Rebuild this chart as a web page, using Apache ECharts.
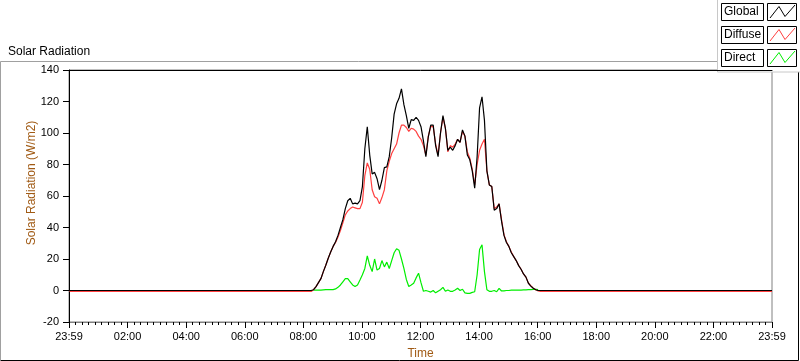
<!DOCTYPE html>
<html>
<head>
<meta charset="utf-8">
<script src="https://cdn.jsdelivr.net/npm/echarts@6/dist/echarts.min.js"></script>
<style>
  html, body { margin: 0; padding: 0; background: #fff; }
  #main { width: 800px; height: 361px; }
</style>
</head>
<body>
<div id="main"></div>
<script>
// sample times (5 min steps during the day)
const times = ['00:00',
  '08:00','08:05','08:10','08:15','08:20','08:25','08:30','08:35','08:40','08:45','08:50','08:55',
  '09:00','09:05','09:10','09:15','09:20','09:25','09:30','09:35','09:40','09:45','09:50','09:55',
  '10:00','10:05','10:10','10:15','10:20','10:25','10:30','10:35','10:40','10:45','10:50','10:55',
  '11:00','11:05','11:10','11:15','11:20','11:25','11:30','11:35','11:40','11:45','11:50','11:55',
  '12:00','12:05','12:10','12:15','12:20','12:25','12:30','12:35','12:40','12:45','12:50','12:55',
  '13:00','13:05','13:10','13:15','13:20','13:25','13:30','13:35','13:40','13:45','13:50','13:55',
  '14:00','14:05','14:10','14:15','14:20','14:25','14:30','14:35','14:40','14:45','14:50','14:55',
  '15:00','15:05','15:10','15:15','15:20','15:25','15:30','15:35','15:40','15:45','15:50','15:55',
  '16:00','16:05',
  '23:59'];

const globalRad = [0,
  0,0,0,0,0.5,2.5,5,7.5,12,16,20.5,24.5,
  28,31,35,40,45,52,57,58.5,55,55.5,55,57,
  66,90,104,86,74,75,71,64,70,78,78.5,85,
  97,112,118.5,122,128,118,111,103,108.5,108,110,108,
  104,95,85,97.6,105,105,92,85,100,111,103,89,
  91,89,92,96,94,102,98,86,83,76,65,85,
  116,123,108,76,67,66,51,52,55,44,35,30.5,
  28,24,21.5,19,15.8,13.5,10.5,8.5,4.6,2.8,1.4,0.5,
  0,0,
  0];

const diffuseRad = [-0.6,
  -0.6,-0.6,-0.6,-0.6,0.5,2.5,5,7.5,12,16,20.5,24.5,
  28,30.5,34,38,43,48,50.5,52,53,52.5,52,52,
  56,73,81,77,64,59.5,58.5,55,59,64,76,82,
  87,90,93,100,105,105,103.5,101,103,102.5,101,98,
  96,92,86,98,104,104,93,86,100,110,103,88,
  92,91,93,96,94,101,98,88,84,77,67,80,
  89,93,96,76,67,66,52,53,55,45,35.5,31,
  28,24.5,21.5,19,16,13.5,10.5,8.5,4.8,3,1.5,0.5,
  -0.3,-0.6,
  -0.6];

const directRad = [null,
  null,null,null,null,0.3,0.3,0.3,0.3,0.4,0.5,0.5,0.5,
  0.6,1,2,3.5,5.5,7.5,7.5,5.5,3.5,2.5,3.5,6.7,
  10,14,22,16,12,20,13,14,19,15,18,14,
  19,24,26.5,25.5,20,14,7,2.5,3.5,4.6,8,11,
  5,-0.5,0,-0.5,-1,0,-1.5,-0.5,0.5,2,-0.5,0.3,
  -0.5,-0.5,0.3,1.4,0,0.8,-1.5,-1.8,-1.8,-1.2,-0.8,10,
  26,29,12,0.5,-0.5,-0.5,0,-0.8,1.4,-0.3,-0.2,0,
  0,0.2,0.2,0.3,0.3,0.3,0.4,0.4,0.5,0.6,0.7,0.8,
  0.5,null,
  null];

const seriesNames = ['Global', 'Diffuse', 'Direct'];
const seriesColors = ['#000000', '#ff4040', '#00ee00'];

const FONT = 'Liberation Sans';
const nameColor = '#a05a14';

function toMin(t) {
  const p = t.split(':');
  return +p[0] * 60 + +p[1];
}
function pairs(vals) {
  return times.map((t, i) => [toMin(t), vals[i]]);
}
function pad(n) { return (n < 10 ? '0' : '') + n; }

const chart = echarts.init(document.getElementById('main'));

// legend boxes (text box + line sample box) drawn as graphics
const legendItems = [];
seriesNames.forEach((name, i) => {
  const top = 3.5 + i * 23;
  legendItems.push({
    type: 'rect', shape: { x: 721.5, y: top, width: 42, height: 17 },
    style: { fill: '#fff', stroke: '#000', lineWidth: 1 }
  });
  legendItems.push({
    type: 'text', x: 724, y: top + 8.5,
    style: { text: name, font: '12px "' + FONT + '"', fill: '#000', verticalAlign: 'middle' }
  });
  legendItems.push({
    type: 'rect', shape: { x: 767.5, y: top, width: 29, height: 17 },
    style: { fill: '#fff', stroke: '#000', lineWidth: 1 }
  });
  legendItems.push({
    type: 'polyline',
    shape: { points: [[770, top + 14.5], [779, top + 3], [785, top + 13], [795, top + 1.5]] },
    style: { stroke: seriesColors[i], lineWidth: 1, fill: null }
  });
});

const option = {
  animation: false,
  backgroundColor: '#fff',
  title: {
    text: 'Solar Radiation',
    left: 3, top: 41,
    textStyle: { fontFamily: FONT, fontSize: 12, fontWeight: 'normal', color: '#000' }
  },
  grid: {
    left: 69, right: 28, top: 70, bottom: 39,
    outerBoundsMode: 'none',
    show: true, borderColor: '#808080', borderWidth: 1, backgroundColor: '#fff'
  },
  xAxis: [{
    type: 'value',
    min: -1, max: 1439, interval: 120,
    name: 'Time', nameLocation: 'middle', nameGap: 26,
    nameTextStyle: { fontFamily: FONT, fontSize: 12, color: nameColor },
    axisLine: { onZero: false, lineStyle: { color: '#808080' } },
    axisTick: { length: 6, lineStyle: { color: '#000' } },
    minorTick: { show: true, splitNumber: 9, length: 3, lineStyle: { color: '#000' } },
    axisLabel: {
      margin: 9, fontFamily: FONT, fontSize: 11, color: '#000',
      formatter: v => (v < 0 || v >= 1439) ? '23:59' : pad(Math.round((v + 1) / 60)) + ':00'
    },
    splitLine: { show: false }
  }, {
    type: 'value', position: 'top',
    min: -1, max: 1439,
    axisLine: { show: true, onZero: false, lineStyle: { color: '#000' } },
    axisTick: { show: false }, axisLabel: { show: false }, splitLine: { show: false }
  }],
  yAxis: {
    type: 'value',
    min: -20, max: 140, interval: 20,
    name: 'Solar Radiation (W/m2)', nameLocation: 'middle', nameGap: 31,
    nameMoveOverlap: false,
    nameTextStyle: { fontFamily: FONT, fontSize: 12, color: nameColor, padding: [0, 0, 0, 26] },
    axisLine: { show: true, onZero: false, lineStyle: { color: '#000' } },
    axisTick: { show: true, length: 6, lineStyle: { color: '#000' } },
    axisLabel: { margin: 10, fontFamily: FONT, fontSize: 11, color: '#000' },
    splitLine: { show: false }
  },
  graphic: [
    { type: 'polyline', shape: { points: [[0.5, 360], [0.5, 61.5], [717, 61.5]] },
      style: { stroke: '#a0a0a0', lineWidth: 1, fill: null } },
    { type: 'polyline', shape: { points: [[0.5, 360.5], [798.5, 360.5], [798.5, 72]] },
      style: { stroke: '#000', lineWidth: 1, fill: null } },
    { type: 'rect', shape: { x: 717.5, y: -1, width: 90, height: 73 },
      style: { fill: '#fff', stroke: '#c8c8c8', lineWidth: 1 } },
    ...legendItems
  ],
  series: [
    { name: 'Direct', type: 'line', data: pairs(directRad), showSymbol: false,
      lineStyle: { width: 1.2, color: seriesColors[2] }, itemStyle: { color: seriesColors[2] }, z: 2 },
    { name: 'Diffuse', type: 'line', data: pairs(diffuseRad), showSymbol: false,
      lineStyle: { width: 1.2, color: seriesColors[1] }, itemStyle: { color: seriesColors[1] }, z: 3 },
    { name: 'Global', type: 'line', data: pairs(globalRad), showSymbol: false,
      lineStyle: { width: 1.2, color: seriesColors[0] }, itemStyle: { color: seriesColors[0] }, z: 4 }
  ]
};

chart.setOption(option);
</script>
</body>
</html>
